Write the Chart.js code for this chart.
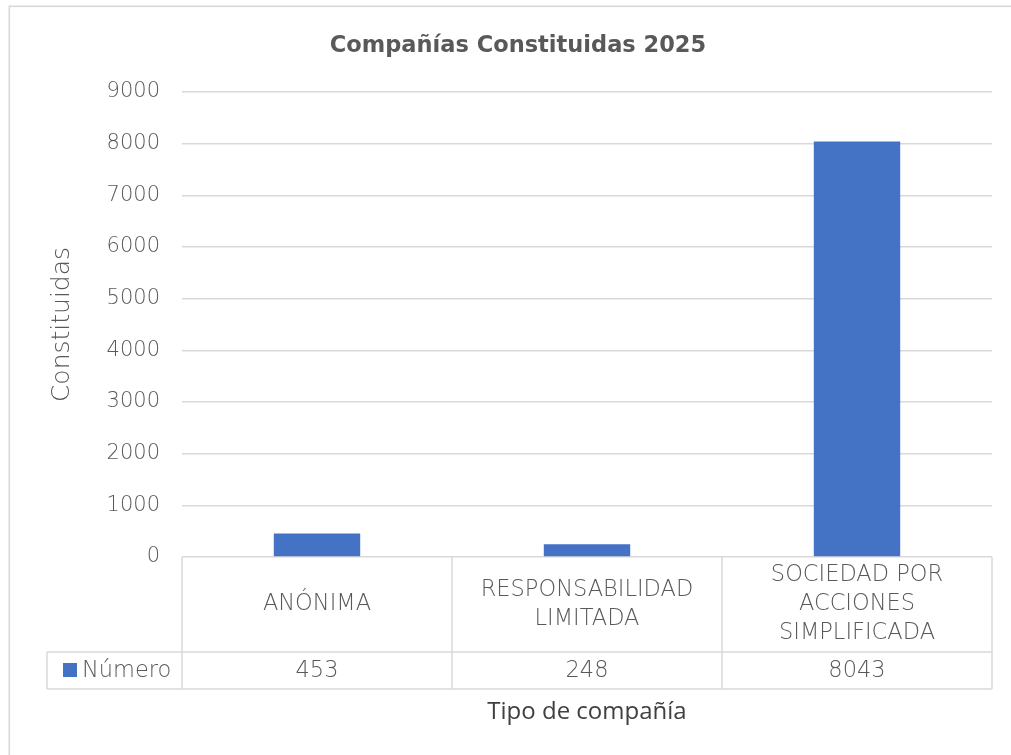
<!DOCTYPE html>
<html>
<head>
<meta charset="utf-8">
<script src="https://cdn.jsdelivr.net/npm/chart.js@4.4.1/dist/chart.umd.min.js"></script>
<style>
  html, body { margin: 0; padding: 0; background: #fff; }
  #wrap { width: 1011px; height: 755px; position: relative; }
</style>
</head>
<body>
<div id="wrap"><canvas id="chart" width="1011" height="755"></canvas></div>
<script>
  // Data
  const categories = [['ANÓNIMA'], ['RESPONSABILIDAD', 'LIMITADA'], ['SOCIEDAD POR', 'ACCIONES', 'SIMPLIFICADA']];
  const seriesName = 'Número';
  const values = [453, 248, 8043];
  const yTicks = [0, 1000, 2000, 3000, 4000, 5000, 6000, 7000, 8000, 9000];
  const chartTitle = 'Compañías Constituidas 2025';

  const TEXT = '#595959';
  const LINE = '#d9d9d9';
  const BAR = '#4472C4';
  const LIGHT_FONT = '"DejaVu Sans", sans-serif';

  // Chart frame, title and data table under the plot
  const tablePlugin = {
    id: 'dataTable',
    beforeDraw(chart) {
      const ctx = chart.ctx;
      ctx.save();
      ctx.fillStyle = LINE;
      ctx.fillRect(9, 5.5, 1002, 1.6);
      ctx.fillRect(8.5, 5.5, 1.6, 750);
      ctx.restore();
    },
    afterDraw(chart) {
      const ctx = chart.ctx;
      const x = chart.scales.x;
      const area = chart.chartArea;
      const top = area.bottom;
      const rowSplit = top + 95;
      const bottom = rowSplit + 37;
      const keyLeft = 47;

      ctx.save();
      // title, centred on the chart frame like the original
      ctx.fillStyle = TEXT;
      ctx.font = 'bold 22.5px "DejaVu Sans", sans-serif';
      ctx.textAlign = 'center';
      ctx.textBaseline = 'middle';
      ctx.fillText(chartTitle, 518, 46);

      ctx.strokeStyle = LINE;
      ctx.lineWidth = 1.5;
      ctx.beginPath();
      for (let i = 0; i <= categories.length; i++) {
        const px = Math.round(x.getPixelForValue(i - 0.5));
        ctx.moveTo(px, top);
        ctx.lineTo(px, bottom);
      }
      ctx.moveTo(keyLeft, rowSplit);
      ctx.lineTo(keyLeft, bottom);
      ctx.moveTo(keyLeft, rowSplit);
      ctx.lineTo(area.right, rowSplit);
      ctx.moveTo(keyLeft, bottom);
      ctx.lineTo(area.right, bottom);
      ctx.stroke();

      ctx.font = '200 22.5px ' + LIGHT_FONT;
      const lh = 29;
      categories.forEach((lines, i) => {
        const cx = x.getPixelForTick(i);
        const cy = (top + rowSplit) / 2;
        const y0 = cy - (lines.length - 1) * lh / 2;
        lines.forEach((t, j) => ctx.fillText(t, cx, y0 + j * lh));
        ctx.fillText(String(values[i]), cx, (rowSplit + bottom) / 2 + 1);
      });

      // legend key
      ctx.fillStyle = BAR;
      ctx.fillRect(63, 663, 14, 14);
      ctx.fillStyle = TEXT;
      ctx.textAlign = 'left';
      ctx.fillText(seriesName, 82, (rowSplit + bottom) / 2 + 1);
      ctx.restore();
    }
  };

  new Chart(document.getElementById('chart'), {
    type: 'bar',
    data: {
      labels: categories,
      datasets: [{
        label: seriesName,
        data: values,
        backgroundColor: BAR,
        barPercentage: 0.32,
        categoryPercentage: 1
      }]
    },
    options: {
      responsive: false,
      animation: false,
      layout: { padding: { left: 9, right: 19, top: 92, bottom: 0 } },
      plugins: {
        legend: { display: false },
        tooltip: { enabled: false },
        title: { display: false }
      },
      scales: {
        x: {
          grid: { display: false },
          border: { display: false },
          ticks: { display: false },
          title: {
            display: true,
            text: 'Tipo de compañía',
            color: '#404040',
            font: { family: '"Open Sans", sans-serif', size: 24 },
            padding: { top: 0, bottom: 28.5 }
          },
          afterFit(scale) { scale.height = 198; }
        },
        y: {
          min: 0,
          max: yTicks[yTicks.length - 1],
          afterBuildTicks(scale) { scale.ticks = yTicks.map(v => ({ value: v })); },
          grid: { color: LINE, lineWidth: 1.5, drawTicks: false },
          border: { display: false },
          ticks: {
            color: TEXT,
            padding: 22,
            font: { family: LIGHT_FONT, size: 21, weight: '200' },
            callback: v => String(v)
          },
          title: {
            display: true,
            text: 'Constituidas',
            color: TEXT,
            font: { family: LIGHT_FONT, size: 25, weight: '200' },
            padding: { top: 38, bottom: 0 }
          },
          afterFit(scale) { scale.width = 173; }
        }
      }
    },
    plugins: [tablePlugin]
  });
</script>
</body>
</html>
